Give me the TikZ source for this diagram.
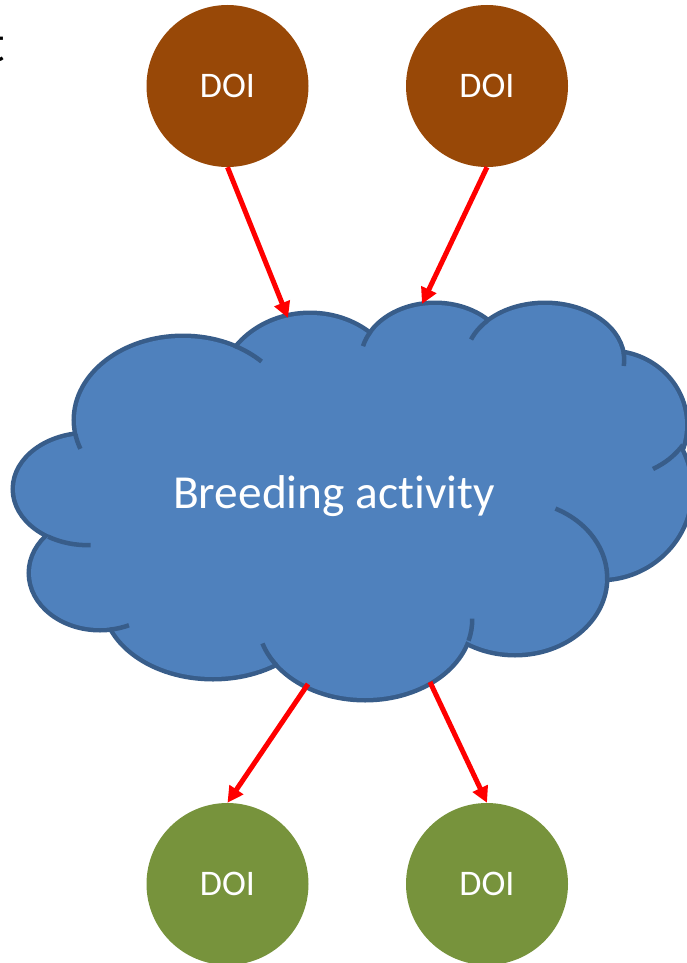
\documentclass[tikz,border=0pt]{standalone}
\usepackage{fontspec}
\setmainfont{Carlito}[Ligatures=NoCommon]
\usetikzlibrary{arrows.meta}
\definecolor{cloudfill}{HTML}{4F81BD}
\definecolor{cloudline}{HTML}{385D8A}
\definecolor{doibrown}{HTML}{984807}
\definecolor{doigreen}{HTML}{77933C}
\begin{document}
\begin{tikzpicture}[x=1pt,y=1pt,
  doi/.style={circle, inner sep=0pt, minimum size=162pt, text=white, font=\fontsize{36}{43}\selectfont},
  arr/.style={draw=red, line width=5pt, -{Triangle[length=16pt,width=16pt]}},
  puffline/.style={draw=cloudline, line width=9pt},
  tailline/.style={draw=cloudline, line width=4.5pt},
]
\useasboundingbox (0,0) rectangle (687,-963);
\clip (0,0) rectangle (687,-963);
% cloud: outline from doubled strokes covered by fills
\foreach \cx/\cy/\rx/\ry in {183/420/107/82, 88/489/73/54, 100/573/69/55, 213/600/108/77, 365/620/105/78, 515/578/90/75, 600/490/90/88, 610/425/75/72, 545/360/77/55, 435/360/72/55, 310/395/90/80}
  \draw[puffline] (\cx,-\cy) ellipse[x radius=\rx, y radius=\ry];
\foreach \cx/\cy/\rx/\ry in {183/420/107/82, 88/489/73/54, 100/573/69/55, 213/600/108/77, 365/620/105/78, 515/578/90/75, 600/490/90/88, 610/425/75/72, 545/360/77/55, 435/360/72/55, 310/395/90/80}
  \fill[cloudfill] (\cx,-\cy) ellipse[x radius=\rx, y radius=\ry];
\fill[cloudfill] (183,-420) -- (88,-489) -- (100,-573) -- (213,-600) -- (365,-620) -- (515,-578) -- (600,-490) -- (610,-425) -- (545,-360) -- (435,-360) -- (310,-395) -- cycle;
% inner tails
\foreach \cx/\cy/\rx/\ry/\a/\b in {183/420/109.2/84.2/-170/-160, 183/420/109.2/84.2/44/62, 88/489/75.2/56.2/-122/-88, 100/573/71.2/57.2/-82/-66, 365/620/107.2/80.2/-163/-146, 365/620/107.2/80.2/-15/1, 515/578/92.2/77.2/-2/64, 545/360/79.2/57.2/-223/-201, 545/360/79.2/57.2/-6/7, 435/360/74.2/57.2/-210/-194}
  \draw[tailline] ([shift={({\rx*cos(\a)},{\ry*sin(\a)})}]\cx,-\cy) arc[start angle=\a, end angle=\b, x radius=\rx, y radius=\ry];
\coordinate (h1) at (683,-445);
\coordinate (h2) at (653,-469);
\draw[tailline] (h1) to[bend left=12] (h2);
\node[text=white, font=\fontsize{47.4}{57}\selectfont, anchor=base, inner sep=0pt] (cloud) at (334,-508) {Breeding activity};
% DOI circles
\node[doi, fill=doibrown] (d1) at (227.5,-86) {DOI};
\node[doi, fill=doibrown] (d2) at (487,-86) {DOI};
\node[doi, fill=doigreen] (d3) at (227.5,-884) {DOI};
\node[doi, fill=doigreen] (d4) at (487,-884) {DOI};
% partial letter at the left edge
\node[anchor=base east, inner sep=0pt, font=\fontsize{52}{60}\selectfont] (tt) at (5,-62) {t};
% arrows
\coordinate (c1) at (288,-318);
\coordinate (c2) at (422,-304);
\coordinate (c3) at (308,-684);
\coordinate (c4) at (430,-682);
\draw[arr] (d1.south) -- (c1);
\draw[arr] (d2.south) -- (c2);
\draw[arr] (c3) -- (d3.north);
\draw[arr] (c4) -- (d4.north);
\end{tikzpicture}
\end{document}
